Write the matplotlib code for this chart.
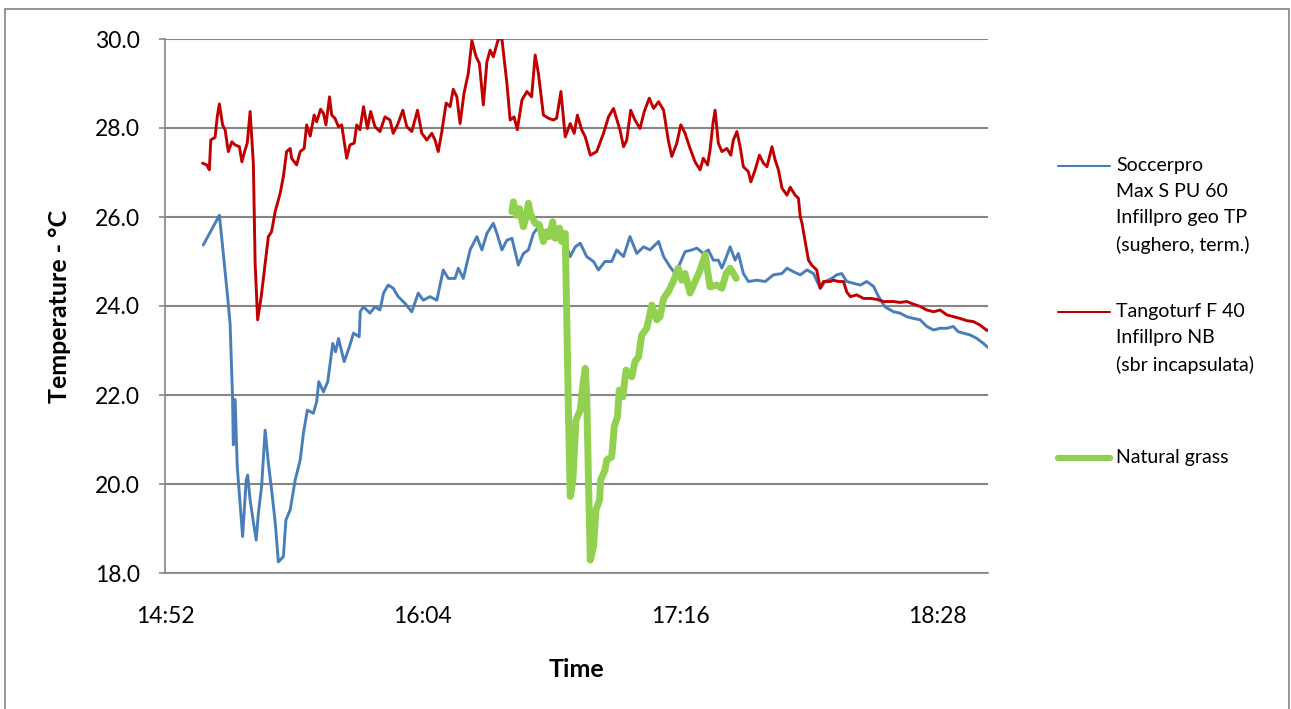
import matplotlib
matplotlib.use('Agg')
import matplotlib.pyplot as plt
from matplotlib.lines import Line2D
from matplotlib.patches import Rectangle

plt.rcParams['font.family'] = ['Lato', 'DejaVu Sans']

# time in minutes after 14:52, temperature in degC
soccer_t = [10.7, 15.2, 16.3, 17.5, 18.2, 18.9, 19.1, 19.6, 20.2, 21.7, 22.7, 23.1, 23.8, 24.7,
            25.5, 26.1, 27.0, 28.0, 28.9, 29.8, 30.8, 31.7, 33.1, 33.8, 35.0, 36.4, 37.8, 38.7,
            39.8, 41.5, 42.4, 43.0, 44.3, 45.5, 46.9, 47.7, 48.5, 50.1, 51.7, 52.7, 54.3, 54.6,
            55.5, 57.3, 58.7, 60.1, 61.1, 62.4, 63.8, 65.2, 67.1, 69.0, 70.8, 72.2, 74.1, 76.0,
            77.8, 79.2, 81.1, 82.0, 83.4, 85.3, 87.2, 88.6, 90.0, 91.8, 92.8, 94.2, 95.6, 97.0,
            98.8, 100.2, 101.6, 103.0, 104.4, 105.8, 107.7, 109.5, 111.9, 113.3, 114.7, 116.1,
            117.9, 119.8, 121.2, 123.0, 124.9, 126.3, 128.2, 130.0, 131.9, 133.8, 135.6, 138.0,
            139.4, 141.2, 142.6, 144.0, 145.4, 147.3, 148.7, 150.5, 151.9, 153.3, 154.7, 155.7,
            156.6, 158.0, 159.4, 160.3, 161.7, 163.1, 165.5, 167.8, 170.1, 172.5, 173.9, 175.7,
            177.6, 179.5, 181.3, 183.2, 184.6, 186.4, 187.8, 189.2, 190.6, 192.5, 194.4, 196.2,
            198.1, 199.5, 201.3, 203.7, 205.5, 207.4, 209.3, 211.1, 213.0, 214.9, 216.7, 218.6,
            220.4, 221.8, 223.2, 225.1, 227.0, 228.8, 230.1]
soccer_v = [25.37, 26.04, 25.18, 24.21, 23.6, 21.9, 20.88, 21.9, 20.39, 18.82, 20.09, 20.2, 19.64, 19.15,
            18.74, 19.34, 19.94, 21.21, 20.47, 19.87, 19.15, 18.25, 18.37, 19.19, 19.42, 20.09, 20.54, 21.14,
            21.66, 21.59, 21.85, 22.3, 22.07, 22.3, 23.16, 22.97, 23.27, 22.75, 23.12, 23.39, 23.31, 23.88,
            23.98, 23.84, 23.98, 23.91, 24.29, 24.47, 24.4, 24.21, 24.06, 23.87, 24.29, 24.13, 24.21, 24.13,
            24.81, 24.62, 24.62, 24.85, 24.62, 25.26, 25.56, 25.26, 25.63, 25.86, 25.63, 25.26, 25.48, 25.52,
            24.92, 25.18, 25.26, 25.63, 25.78, 25.56, 25.71, 25.52, 25.41, 25.11, 25.33, 25.41,
            25.11, 25.0, 24.81, 25.0, 25.0, 25.26, 25.11, 25.56, 25.18, 25.33, 25.26, 25.45,
            25.11, 24.88, 24.73, 24.96, 25.22, 25.26, 25.3, 25.18, 25.26, 25.03, 25.03, 24.85,
            25.03, 25.33, 25.03, 25.18, 24.73, 24.55, 24.58, 24.55, 24.7, 24.73, 24.85, 24.77,
            24.7, 24.81, 24.73, 24.4, 24.55, 24.62, 24.7, 24.73, 24.55, 24.51, 24.47, 24.55,
            24.44, 24.21, 23.98, 23.87, 23.84, 23.76, 23.72, 23.69, 23.54, 23.46, 23.5, 23.5,
            23.54, 23.42, 23.39, 23.35, 23.27, 23.16, 23.07]

tango_t = [10.5, 11.7, 12.4, 12.8, 14.0, 14.6, 15.2, 16.1, 16.8, 17.7, 18.7, 19.6, 20.8, 21.5,
           22.4, 23.0, 23.8, 24.7, 25.2, 25.9, 26.9, 28.0, 28.9, 29.8, 30.8, 32.2, 33.1, 34.0,
           35.0, 35.4, 36.8, 37.8, 38.9, 39.6, 40.6, 41.7, 42.4, 43.5, 44.3, 45.0, 46.0, 46.6,
           47.5, 48.5, 49.4, 50.8, 51.7, 52.9, 53.6, 54.5, 55.5, 56.6, 57.5, 58.7, 60.1, 61.5,
           62.9, 63.8, 65.0, 66.5, 67.6, 69.0, 70.6, 71.8, 73.2, 74.6, 75.5, 76.4, 77.4, 78.6,
           79.7, 80.6, 81.6, 82.5, 83.6, 84.8, 85.8, 87.0, 87.9, 89.0, 90.0, 90.9, 91.8, 93.2,
           94.2, 95.6, 96.5, 97.6, 98.5, 99.8, 101.2, 102.5, 103.5, 104.4, 105.8, 107.2, 108.6,
           109.5, 110.7, 111.9, 113.3, 114.4, 115.3, 116.5, 117.5, 118.9, 120.7, 122.6, 124.0,
           125.4, 127.2, 128.2, 129.1, 130.2, 131.4, 132.8, 134.0, 135.4, 136.6, 138.0, 139.4,
           140.7, 141.7, 143.1, 144.2, 145.4, 146.8, 148.2, 149.6, 150.5, 151.7, 152.4, 153.2,
           153.8, 154.7, 155.7, 157.1, 158.2, 158.9, 159.9, 160.8, 161.7, 163.1, 163.8, 165.0,
           166.2, 167.3, 168.3, 169.7, 170.6, 171.5, 172.5, 173.9, 174.8, 176.2, 177.1, 177.6,
           178.1, 179.0, 179.9, 180.8, 182.2, 183.2, 184.1, 186.0, 186.9, 188.3, 189.7, 190.6,
           191.6, 193.4, 195.3, 197.2, 199.0, 200.9, 203.7, 205.5, 207.4, 209.3, 211.1, 213.0,
           214.9, 216.7, 218.6, 220.4, 222.3, 224.2, 226.0, 227.9, 229.8, 230.1]
tango_v = [27.21, 27.17, 27.06, 27.73, 27.79, 28.25, 28.54, 28.07, 27.96, 27.47, 27.69, 27.62, 27.58, 27.24,
           27.51, 27.66, 28.37, 27.21, 24.96, 23.69, 24.21, 24.96, 25.56, 25.67, 26.12, 26.53, 26.91, 27.47,
           27.54, 27.32, 27.17, 27.47, 27.54, 28.07, 27.82, 28.29, 28.14, 28.42, 28.33, 28.07, 28.7, 28.29,
           28.22, 28.03, 28.07, 27.32, 27.62, 27.66, 28.07, 27.96, 28.48, 27.99, 28.37, 28.03, 27.92, 28.25,
           28.18, 27.88, 28.07, 28.4, 28.03, 27.92, 28.4, 27.88, 27.73, 27.88, 27.73, 27.47, 27.92, 28.56,
           28.48, 28.87, 28.7, 28.1, 28.78, 29.23, 29.96, 29.6, 29.45, 28.52, 29.49, 29.75, 29.6, 30.0,
           30.0, 29.0, 28.18, 28.25, 27.96, 28.63, 28.82, 28.7, 29.64, 29.23, 28.29, 28.22, 28.18,
           28.22, 28.82, 27.8, 28.1, 27.88, 28.29, 27.96, 27.8, 27.39, 27.47, 27.88, 28.25,
           28.44, 27.96, 27.58, 27.73, 28.4, 28.18, 27.99, 28.37, 28.67, 28.44, 28.59, 28.4,
           27.73, 27.36, 27.66, 28.07, 27.88, 27.54, 27.24, 27.06, 27.32, 27.17, 27.51, 28.1,
           28.4, 27.66, 27.47, 27.54, 27.39, 27.73, 27.92, 27.58, 27.13, 27.02, 26.79, 27.06,
           27.39, 27.21, 27.13, 27.58, 27.28, 27.06, 26.65, 26.49, 26.67, 26.49, 26.42, 26.01,
           25.86, 25.45, 25.03, 24.92, 24.81, 24.4, 24.55, 24.55, 24.58, 24.55, 24.55, 24.32,
           24.21, 24.25, 24.17, 24.17, 24.15, 24.1, 24.1, 24.08, 24.1, 24.04, 23.99, 23.91,
           23.87, 23.91, 23.8, 23.76, 23.72, 23.67, 23.65, 23.57, 23.45, 23.46]

grass_t = [97.0, 97.4, 98.2, 99.1, 100.2, 101.0, 101.6, 102.3, 103.5, 104.7, 105.8, 106.7, 107.5,
           108.4, 109.1, 110.3, 110.9, 111.9, 112.3, 112.8, 113.3, 114.0, 114.9, 116.1, 117.0,
           117.5, 117.9, 118.4, 118.9, 119.8, 120.5, 121.5, 121.8, 123.0, 123.5, 124.9, 125.6,
           126.5, 127.0, 128.0, 128.9, 130.5, 131.4, 132.4, 133.3, 134.7, 136.1, 137.5, 138.4,
           139.4, 140.7, 142.1, 143.5, 144.5, 145.4, 146.8, 148.2, 149.6, 151.0, 152.4, 154.3,
           155.7, 156.9, 158.0, 158.9, 159.7]
grass_v = [26.12, 26.34, 26.04, 26.19, 25.78, 26.01, 26.31, 26.04, 25.86, 25.82, 25.45, 25.67, 25.56,
           25.89, 25.52, 25.75, 25.45, 25.63, 23.84, 21.59, 19.72, 20.06, 21.44, 21.66, 22.34,
           22.6, 21.96, 20.09, 18.29, 18.59, 19.42, 19.64, 20.09, 20.31, 20.54, 20.61, 21.29,
           21.51, 22.11, 21.96, 22.56, 22.41, 22.75, 22.86, 23.35, 23.5, 24.02, 23.69, 23.76,
           24.17, 24.32, 24.55, 24.85, 24.58, 24.73, 24.29, 24.55, 24.81, 25.15, 24.43, 24.47,
           24.4, 24.73, 24.85, 24.73, 24.62]

x_ticks = [0, 72, 144, 216]
x_labels = ['14:52', '16:04', '17:16', '18:28']
y_ticks = [18, 20, 22, 24, 26, 28, 30]

labels = ['Soccerpro\nMax S PU 60\nInfillpro geo TP\n(sughero, term.)',
          'Tangoturf F 40\nInfillpro NB\n(sbr incapsulata)',
          'Natural grass']
colors = ['#4A7EBB', '#C00000', '#92D050']
widths = [2.1, 2.1, 5.0]

W, H = 1291, 709
fig = plt.figure(figsize=(W / 100, H / 100), dpi=100)
ax = fig.add_axes([165 / W, 1 - 573 / H, (988 - 165) / W, (573 - 39) / H])

series = [(soccer_t, soccer_v), (tango_t, tango_v), (grass_t, grass_v)]
for (t, v), c, lw in zip(series, colors, widths):
    ax.plot(t, v, color=c, lw=lw, solid_joinstyle='round', solid_capstyle='round', zorder=3)

grid_col = '#868686'
ax.set_xlim(0, 230.1)
ax.set_ylim(18, 30)
ax.set_yticks(y_ticks)
ax.set_yticklabels(['%.1f' % y for y in y_ticks])
ax.set_xticks(x_ticks)
ax.set_xticklabels(x_labels)
ax.yaxis.grid(True, color=grid_col, lw=1.5)
ax.set_axisbelow(True)
for s in ['top', 'right']:
    ax.spines[s].set_visible(False)
for s in ['left', 'bottom']:
    ax.spines[s].set_color(grid_col)
    ax.spines[s].set_linewidth(1.2)
ax.tick_params(axis='y', length=4, width=1.2, color=grid_col, pad=14, labelsize=16.5)
ax.tick_params(axis='x', length=0, pad=24, labelsize=16.5)

ax.set_xlabel('Time', fontsize=18, fontweight='bold', labelpad=22)
ax.set_ylabel('Temperature - °C', fontsize=18, fontweight='bold', labelpad=17)

# legend drawn by hand so the swatch sits on the first text line
leg_y = [166, 312, 458]
for lab, c, lw, y in zip(labels, colors, widths, leg_y):
    fig.add_artist(Line2D([1058 / W, 1110 / W], [1 - y / H, 1 - y / H], color=c,
                          lw=1.5 if lw < 3 else 4.5, solid_capstyle='round'))
    fig.text(1116 / W, 1 - (y - 9) / H, lab, fontsize=14, va='top', ha='left', linespacing=1.64)

# outer chart frame
fig.add_artist(Rectangle((5 / W, -0.05), 1284 / W, 1.05 - 9 / H, transform=fig.transFigure,
                         fill=False, ec='#8c8c8c', lw=1.3))

fig.savefig('out.png', dpi=100)
